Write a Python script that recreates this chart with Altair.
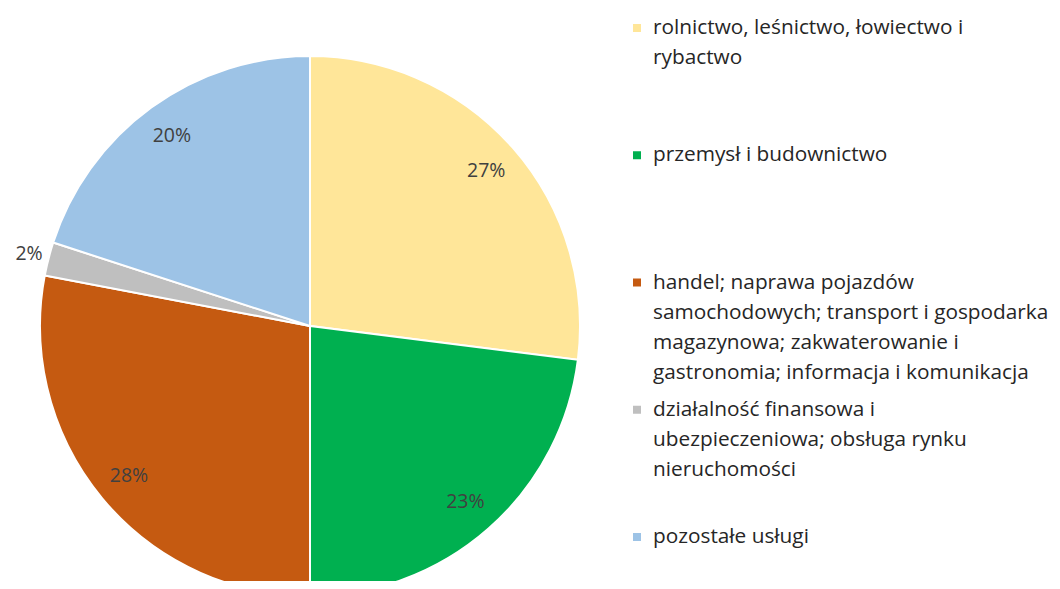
import altair as alt
import pandas as pd

categories = [
    "rolnictwo, leśnictwo, łowiectwo i\nrybactwo",
    "przemysł i budownictwo",
    "handel; naprawa pojazdów\nsamochodowych; transport i gospodarka\nmagazynowa; zakwaterowanie i\ngastronomia; informacja i komunikacja",
    "działalność finansowa i\nubezpieczeniowa; obsługa rynku\nnieruchomości",
    "pozostałe usługi",
]
values = [27, 23, 28, 2, 20]
colors = ["#FFE699", "#00B050", "#C55A11", "#BFBFBF", "#9DC3E6"]

df = pd.DataFrame({"cat": categories, "pct": values, "idx": list(range(len(values)))})

FONT = "Open Sans"
CX, CY, R = 302, 318, 270

color_scale = alt.Scale(domain=categories, range=colors)

base = alt.Chart(df).encode(
    theta=alt.Theta("pct:Q", stack=True),
    order=alt.Order("idx:Q"),
)

arcs = base.mark_arc(outerRadius=R, stroke="white", strokeWidth=2).encode(
    color=alt.Color("cat:N", scale=color_scale, legend=None),
    x=alt.value(CX),
    y=alt.value(CY),
)

inner_labels = base.mark_text(
    radius=235, font=FONT, fontSize=19.5, color="#404040"
).encode(
    x=alt.value(CX),
    y=alt.value(CY),
    text=alt.Text("lbl:N"),
).transform_calculate(lbl="datum.pct >= 5 ? datum.pct + '%' : ''")

outer_labels = base.mark_text(
    radius=290, font=FONT, fontSize=19.5, color="#404040"
).encode(
    x=alt.value(CX),
    y=alt.value(CY),
    text=alt.Text("lbl:N"),
).transform_calculate(lbl="datum.pct < 5 ? datum.pct + '%' : ''")

yscale = alt.Scale(type="point", domain=categories, range=[20, 529], padding=0)

legend_marks = alt.Chart(df).mark_square(size=64, opacity=1).encode(
    x=alt.value(629),
    y=alt.Y("cat:N", scale=yscale, axis=None),
    color=alt.Color("cat:N", scale=color_scale, legend=None),
)

legend_text = alt.Chart(df).mark_text(
    align="left", baseline="middle", font=FONT, fontSize=20.8, lineHeight=30, color="#262626"
).encode(
    x=alt.value(645),
    y=alt.Y("cat:N", scale=yscale, axis=None),
    text=alt.Text("lines:N"),
).transform_calculate(lines="split(datum.cat, '\\n')")

chart = alt.layer(arcs, inner_labels, outer_labels, legend_marks, legend_text).properties(
    width=1044, height=573, autosize=alt.AutoSizeParams(type="none"), padding=0,
    background="white",
).configure_view(stroke=None)

chart.save("out.html", embed_options={"renderer": "svg", "actions": False})
